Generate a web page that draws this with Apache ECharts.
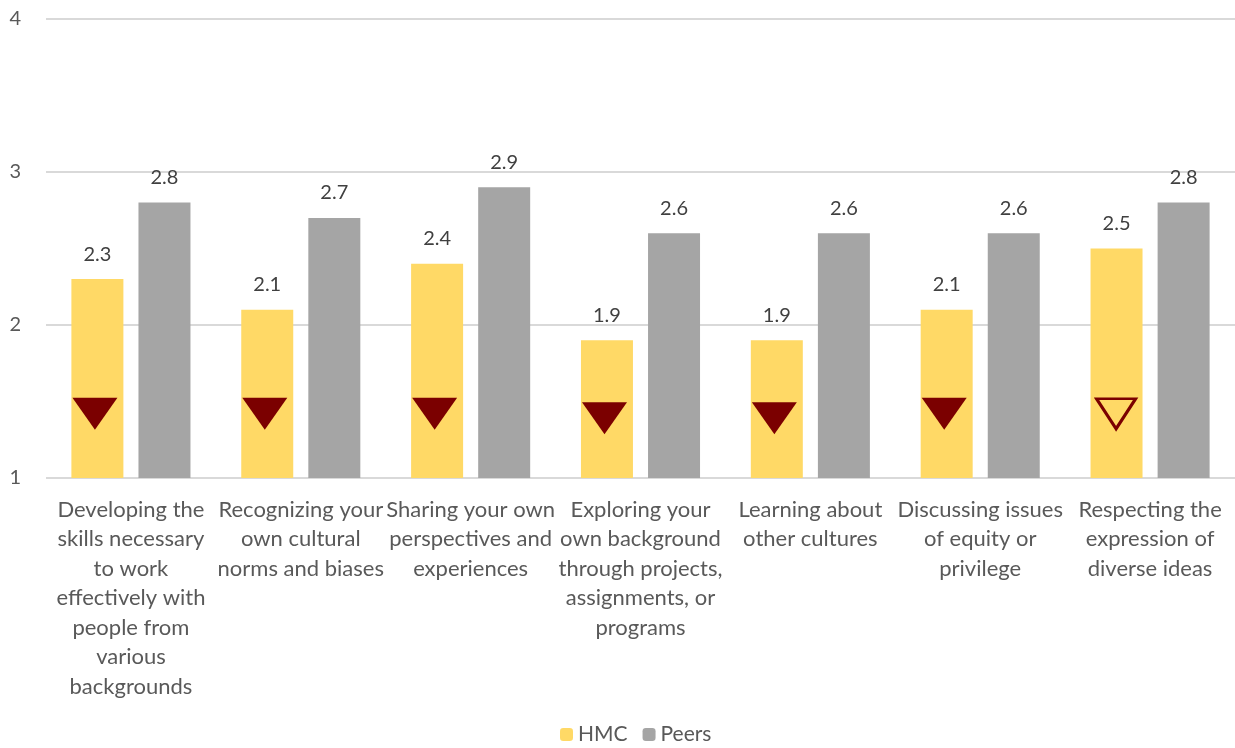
<!DOCTYPE html>
<html>
<head>
<meta charset="utf-8">
<script src="https://cdn.jsdelivr.net/npm/echarts@6/dist/echarts.min.js"></script>
<style>html,body{margin:0;padding:0;background:#fff}#c{width:1235px;height:748px}</style>
</head>
<body>
<div id="c"></div>
<script>
const categories = [
  "Developing the\nskills necessary\nto work\neffectively with\npeople from\nvarious\nbackgrounds",
  "Recognizing your\nown cultural\nnorms and biases",
  "Sharing your own\nperspectives and\nexperiences",
  "Exploring your\nown background\nthrough projects,\nassignments, or\nprograms",
  "Learning about\nother cultures",
  "Discussing issues\nof equity or\nprivilege",
  "Respecting the\nexpression of\ndiverse ideas"
];
const hmc = [2.3, 2.1, 2.4, 1.9, 1.9, 2.1, 2.5];
const peers = [2.8, 2.7, 2.9, 2.6, 2.6, 2.6, 2.8];
// significance markers (down triangles); filled = true for solid, false for outline
const markerValues = [1.42, 1.42, 1.42, 1.39, 1.39, 1.42, 1.42];
const markerFilled = [true, true, true, true, true, true, false];
const yTicks = [1, 2, 3, 4];

const FONT = 'Lato, "Liberation Sans", sans-serif';
const chart = echarts.init(document.getElementById('c'));
chart.setOption({
  animation: false,
  textStyle: {fontFamily: FONT},
  grid: {left: 46, right: 0, top: 19, bottom: 270, containLabel: false},
  legend: {
    bottom: -2, left: 555,
    itemWidth: 13, itemHeight: 13, itemGap: 15,
    textStyle: {fontSize: 21, color: '#595959', fontFamily: FONT},
    data: ['HMC', 'Peers']
  },
  xAxis: {
    type: 'category', data: categories,
    axisLine: {show: false}, axisTick: {show: false},
    axisLabel: {interval: 0, fontSize: 22, lineHeight: 29.5, color: '#595959', margin: 17, fontFamily: FONT}
  },
  yAxis: {
    type: 'value', min: yTicks[0], max: yTicks[yTicks.length - 1], interval: 1,
    axisLine: {show: false}, axisTick: {show: false},
    axisLabel: {fontSize: 20, color: '#595959', margin: 25, fontFamily: FONT},
    splitLine: {lineStyle: {color: '#D9D9D9', width: 2}}
  },
  series: [
    {
      name: 'HMC', type: 'bar', data: hmc, barWidth: 52, barGap: '29%',
      itemStyle: {color: '#FFD966'},
      label: {show: true, position: 'top', distance: 15, fontSize: 20, color: '#404040', formatter: p => p.value.toFixed(1)}
    },
    {
      name: 'Peers', type: 'bar', data: peers, barWidth: 52,
      itemStyle: {color: '#A5A5A5'},
      label: {show: true, position: 'top', distance: 15, fontSize: 20, color: '#404040', formatter: p => p.value.toFixed(1)}
    },
    {
      name: 'marker', type: 'scatter', z: 5,
      symbol: 'triangle', symbolRotate: 180, symbolSize: [45, 32], symbolOffset: [-36, 0],
      data: markerValues.map((v, i) => markerFilled[i]
        ? {value: v, itemStyle: {color: '#7B0000', opacity: 1}}
        : {value: v, symbolSize: [39, 30], symbolOffset: [-34, 0], itemStyle: {color: 'rgba(0,0,0,0)', borderColor: '#7B0000', borderWidth: 3, opacity: 1}}),
      silent: true
    }
  ]
});
</script>
</body>
</html>
